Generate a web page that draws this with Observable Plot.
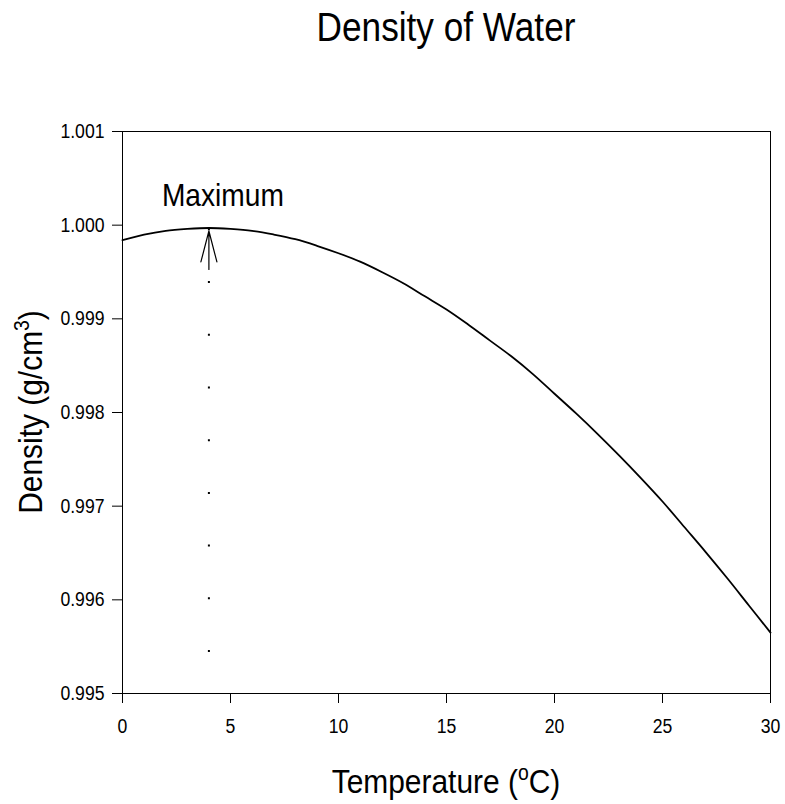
<!DOCTYPE html>
<html>
<head>
<meta charset="utf-8">
<script src="https://cdn.jsdelivr.net/npm/d3@7"></script>
<script src="https://cdn.jsdelivr.net/npm/@observablehq/plot@0.6"></script>
<style>
  html, body { margin: 0; padding: 0; background: #fff; }
</style>
</head>
<body>
<script>
// Density of pure water (g/cm³) at 1 °C steps from 0 to 30 °C
const temperatures = [0, 1, 2, 3, 4, 5, 6, 7, 8, 9, 10, 11, 12, 13, 14, 15,
  16, 17, 18, 19, 20, 21, 22, 23, 24, 25, 26, 27, 28, 29, 30];
const densities = [0.99984, 0.99990, 0.99994, 0.99996, 0.99997, 0.99996, 0.99994,
  0.99990, 0.99985, 0.99978, 0.99970, 0.99961, 0.99950, 0.99938, 0.99924, 0.99910,
  0.99894, 0.99877, 0.99860, 0.99841, 0.99820, 0.99799, 0.99777, 0.99754, 0.99730,
  0.99705, 0.99678, 0.99651, 0.99623, 0.99594, 0.99565];

const xTicks = [0, 5, 10, 15, 20, 25, 30];
const yTicks = [0.995, 0.996, 0.997, 0.998, 0.999, 1.000, 1.001];

const titleText = "Density of Water";
const peakLabel = "Maximum";

const data = temperatures.map((t, i) => ({t, d: densities[i]}));
const peak = data.reduce((a, b) => (b.d > a.d ? b : a));
const yMin = yTicks[0];

const W = 785, H = 804;
const mL = 122, mR = 15, mT = 131, mB = 111;

const svg = Plot.plot({
  width: W,
  height: H,
  marginLeft: mL,
  marginRight: mR,
  marginTop: mT,
  marginBottom: mB,
  style: {fontFamily: "'Liberation Sans', Arial, sans-serif", fontSize: "20px", background: "#fff", color: "#000"},
  x: {domain: [0, 30]},
  y: {domain: [yTicks[0], yTicks[yTicks.length - 1]]},
  marks: [
    Plot.frame({stroke: "#000", strokeWidth: 1}),
    Plot.axisX({ticks: xTicks, tickSize: 10, tickPadding: 15, fontSize: 20, label: null, strokeWidth: 1}),
    Plot.axisY({ticks: yTicks, tickFormat: d3.format(".3f"), tickSize: 10, tickPadding: 8, fontSize: 20, label: null, strokeWidth: 1}),
    // dotted drop line from the temperature of maximum density
    Plot.ruleX([peak], {x: "t", y1: () => yMin, y2: "d", stroke: "#000", strokeWidth: 2,
      strokeDasharray: "2,50.7", strokeDashoffset: 11.7}),
    Plot.line(data, {x: "t", y: "d", stroke: "#000", strokeWidth: 1.8, curve: "catmull-rom"}),
    // arrow pointing at the maximum
    Plot.arrow([peak], {x1: "t", x2: "t", y1: () => yMin, y2: "d", stroke: "#000", strokeWidth: 1.2,
      headAngle: 29, headLength: 40, insetStart: 424, insetEnd: 3}),
    Plot.text([peak], {x: "t", y: "d", text: () => peakLabel, fontSize: 32, dx: 14, dy: -32, fill: "#000"})
  ]
});

const root = d3.select(svg);
const font = "'Liberation Sans', Arial, sans-serif";

// title
root.append("text")
  .attr("x", mL + (W - mL - mR) / 2).attr("y", 41)
  .attr("text-anchor", "middle").attr("font-size", 40).attr("font-family", font).attr("fill", "#000")
  .text(titleText);

// x axis title with superscript
const xl = root.append("text")
  .attr("x", mL + (W - mL - mR) / 2).attr("y", 793)
  .attr("text-anchor", "middle").attr("font-size", 34).attr("font-family", font).attr("fill", "#000");
xl.append("tspan").text("Temperature (");
xl.append("tspan").attr("font-size", 22).attr("dy", -13).text("o");
xl.append("tspan").attr("dy", 13).text("C)");

// y axis title with superscript
const yl = root.append("text")
  .attr("transform", `translate(42,${mT + (H - mT - mB) / 2}) rotate(-90)`)
  .attr("text-anchor", "middle").attr("font-size", 34).attr("font-family", font).attr("fill", "#000");
yl.append("tspan").text("Density (g/cm");
yl.append("tspan").attr("font-size", 22).attr("dy", -13).text("3");
yl.append("tspan").attr("dy", 13).text(")");

document.body.append(svg);

// slightly condensed lettering
svg.querySelectorAll("text").forEach((el) => {
  const w = el.getComputedTextLength();
  if (w > 0) {
    el.setAttribute("textLength", (w * 0.88).toFixed(1));
    el.setAttribute("lengthAdjust", "spacingAndGlyphs");
  }
});
</script>
</body>
</html>
